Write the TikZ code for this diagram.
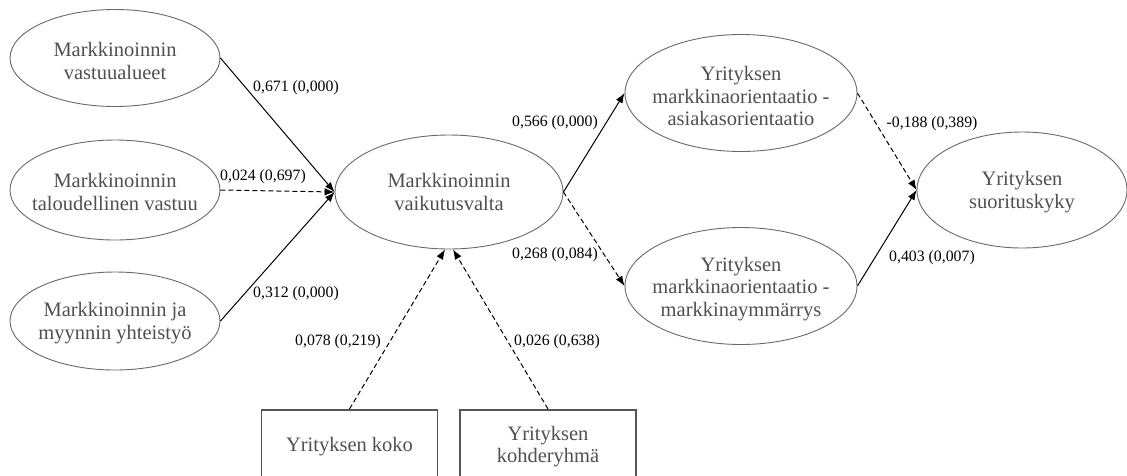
\documentclass[tikz,border=0pt]{standalone}
\usepackage{fontspec}
\setmainfont{Liberation Serif}
\usetikzlibrary{shapes.geometric,arrows.meta}
\definecolor{nodetxt}{RGB}{80,80,80}
\definecolor{ellline}{RGB}{105,105,105}
\definecolor{boxline}{RGB}{85,85,85}
\tikzset{
  ell/.style={ellipse, draw=ellline, line width=0.9pt, inner sep=0pt},
  ntext/.style={align=center, text=nodetxt, font=\fontsize{20.5}{22.5}\selectfont, inner sep=0pt},
  cbox/.style={rectangle, draw=boxline, line width=1.5pt, minimum width=176pt, minimum height=74pt, anchor=north, align=center, text=nodetxt, font=\fontsize{20.5}{22.5}\selectfont, inner sep=0pt},
  arr/.style={draw=black, line width=1pt, -{Latex[length=10pt,width=7.5pt]}},
  darr/.style={arr, dash pattern=on 5pt off 3pt},
  lab/.style={font=\fontsize{15.8}{17}\selectfont, text=black, inner sep=0pt}
}
\begin{document}
\begin{tikzpicture}[x=1pt,y=-1pt]
\useasboundingbox (0,0) rectangle (1127,475);
\clip (0,0) rectangle (1127,475);
\fill[white] (0,0) rectangle (1127,475);
% ellipses
\node[ell, minimum width=210pt, minimum height=97pt] (e1) at (115,58) {};
\node[ntext] (e1t) at (115,61) {Markkinoinnin\\vastuualueet};
\node[ell, minimum width=210pt, minimum height=100pt] (e2) at (115,190) {};
\node[ntext] (e2t) at (115,192) {Markkinoinnin\\taloudellinen vastuu};
\node[ell, minimum width=210pt, minimum height=98pt] (e3) at (115,321) {};
\node[ntext] (e3t) at (115,323) {Markkinoinnin ja\\myynnin yhteistyö};
\node[ell, minimum width=228pt, minimum height=114pt] (mv) at (449,192) {};
\node[ntext] (mvt) at (449,192) {Markkinoinnin\\vaikutusvalta};
\node[ell, minimum width=232pt, minimum height=117pt] (tr) at (741,93) {};
\node[ntext] (trt) at (741,96) {Yrityksen\\markkinaorientaatio -\\asiakasorientaatio};
\node[ell, minimum width=232pt, minimum height=117pt] (br) at (741,286) {};
\node[ntext] (brt) at (741,289) {Yrityksen\\markkinaorientaatio -\\markkinaymmärrys};
\node[ell, minimum width=210pt, minimum height=116pt] (su) at (1022,190) {};
\node[ntext] (sut) at (1022,192) {Yrityksen\\suorituskyky};
% boxes
\node[cbox] (b1) at (349.5,409) {Yrityksen koko};
\node[cbox] (b2) at (548,409) {Yrityksen\\kohderyhmä};
% connectors
\draw[arr] (e1.east) -- (mv.west);
\draw[darr] (e2.east) -- (mv.west);
\draw[arr] (e3.east) -- (mv.west);
\draw[darr] (b1.north) -- (mv.-94);
\draw[darr] (b2.north) -- (mv.-86);
\draw[arr] (mv.east) -- (tr.west);
\draw[darr] (mv.east) -- (br.west);
\draw[darr] (tr.east) -- (su.west);
\draw[arr] (br.east) -- (su.west);
% labels
\node[lab] (l1) at (296,88) {0,671 (0,000)};
\node[lab] (l2) at (263,177) {0,024 (0,697)};
\node[lab] (l3) at (296,294) {0,312 (0,000)};
\node[lab] (l4) at (338,342) {0,078 (0,219)};
\node[lab] (l5) at (557,342) {0,026 (0,638)};
\node[lab] (l6) at (555,123) {0,566 (0,000)};
\node[lab] (l7) at (555,255) {0,268 (0,084)};
\node[lab] (l8) at (932,124) {-0,188 (0,389)};
\node[lab] (l9) at (932,258) {0,403 (0,007)};
\end{tikzpicture}
\end{document}
